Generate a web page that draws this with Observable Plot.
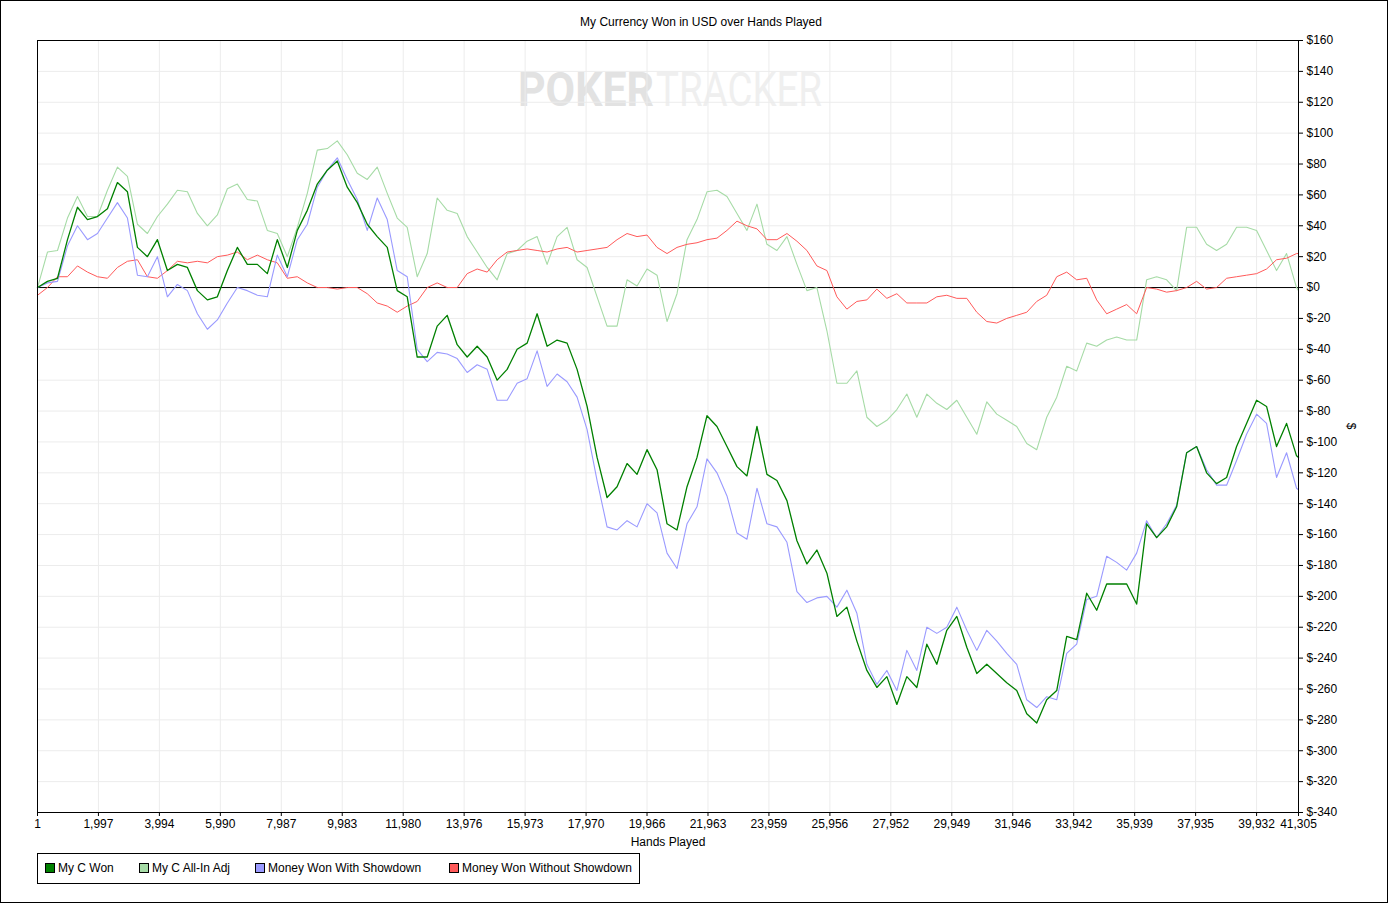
<!DOCTYPE html>
<html>
<head>
<meta charset="utf-8">
<script src="https://cdn.jsdelivr.net/npm/d3@7"></script>
<script src="https://cdn.jsdelivr.net/npm/@observablehq/plot@0.6"></script>
<style>
  html, body { margin: 0; padding: 0; background: #fff; overflow: hidden; }
  #wrap { position: relative; width: 1388px; height: 903px; font-family: "Liberation Sans", Arial, sans-serif; font-size: 12px; color: #000; background: #fff; }
  #outer { position: absolute; left: 0; top: 0; width: 1388px; height: 903px; box-sizing: border-box; border: 1px solid #000; pointer-events: none; }
  #title { position: absolute; left: 480px; width: 442px; top: 15px; line-height: 14px; text-align: center; }
  #wm { position: absolute; left: 490px; top: 50px; }
  #chart { position: absolute; left: 0; top: 0; }
  #xlabel { position: absolute; left: 568px; width: 200px; top: 835px; line-height: 14px; text-align: center; }
  #ylabel { position: absolute; left: 1344px; top: 419px; width: 14px; height: 14px; line-height: 14px; text-align: center; transform: rotate(90deg); }
  #legend { position: absolute; left: 37px; top: 853px; width: 603px; height: 31px; box-sizing: border-box; border: 1px solid #000; background: #fff; }
  .item { position: absolute; top: 0; height: 29px; }
  .sw { position: absolute; left: 0; top: 9px; width: 10px; height: 10px; box-sizing: border-box; border: 1px solid #000; }
  .lt { position: absolute; left: 13px; top: 7px; line-height: 14px; white-space: nowrap; }
</style>
</head>
<body>
<div id="wrap">
  <svg id="wm" width="380" height="80">
    <text id="wm1" x="0" y="56" font-family="Roboto, 'Liberation Sans', sans-serif" font-size="48" font-weight="bold" fill="#e2e2e2">POKER</text>
    <text id="wm2" x="0" y="56" font-family="Roboto, 'Liberation Sans', sans-serif" font-size="48" fill="#efefef">TRACKER</text>
  </svg>
  <div id="chart"></div>
  <div id="title">My Currency Won in USD over Hands Played</div>
  <div id="xlabel">Hands Played</div>
  <div id="ylabel">$</div>
  <div id="legend"></div>
  <div id="outer"></div>
</div>
<script>
// ---- data ----
const hands = [1,328,656,983,1310,1638,1965,2292,2619,2947,3274,3601,3929,4256,4583,4911,5238,5565,5892,6220,6547,6874,7202,7529,7856,8184,8511,8838,9165,9493,9820,10147,10475,10802,11129,11457,11784,12111,12438,12766,13093,13420,13748,14075,14402,14730,15057,15384,15711,16039,16366,16693,17021,17348,17675,18003,18330,18657,18984,19312,19639,19966,20294,20621,20948,21276,21603,21930,22257,22585,22912,23239,23567,23894,24221,24549,24876,25203,25530,25858,26185,26512,26840,27167,27494,27822,28149,28476,28803,29131,29458,29785,30113,30440,30767,31095,31422,31749,32076,32404,32731,33058,33386,33713,34040,34368,34695,35022,35349,35677,36004,36331,36659,36986,37313,37641,37968,38295,38622,38950,39277,39604,39932,40259,40586,40914,41241,41305];

const myCWon = [0,4,6,31,52,44,46,51,68,62,26,20,31,11,15,13,-2,-8,-6,11,26,15,15,9,31,13,37,50,67,76,82,65,55,41,33,26,-2,-6,
  -45,-45,-25,-18,-37,-45,
  -38,-45,-60,-53,-40,-36,-17,-38,-34,-36,-53,-77,-110,-136,-129,-114,-121,-105,-118,-153,-157,-129,-110,-83,-90,
  -103,-116,-122,-90,-121,-125,-138,-164,-179,-170,-185,-213,-207,-229,-248,-259,-252,-270,-252,-259,-231,-244,-222,-213,-233,-250,-244,-250,
  -256,-261,-276,-282,-267,-261,-226,-228,-198,-209,-192,-192,-192,-205,-153,-162,-155,-142,-107,-103,-120,-127,-123,-103,-88,-73,-77,-103,-88,-109,
  -110];

const myCAllInAdj = [0,23,24,45,59,46,46,63,78,72,41,35,46,54,63,62,48,40,47,64,67,57,56,37,35,20,39,61,89,90,95,86,74,70,78,61,45,39,7,22,58,50,48,33,23,
  13,5,22,24,30,33,15,33,39,18,13,-6,-25,-25,5,1,12,8,-22,-4,31,44,62,63,59,48,37,54,28,24,33,15,-2,0,-28,-62,-62,-54,-84,-90,
  -86,-79,-69,-84,-69,-75,-79,-73,-84,-95,-74,-82,-86,-90,-101,-105,-84,-71,-51,-54,-36,-38,-34,-32,-34,-34,5,7,5,-2,39,39,28,24,28,39,39,37,24,11,22,0,
  -2];

const wonWithShowdown = [0,3,4,27,40,31,35,45,55,45,8,7,20,-6,2,-2,-17,-27,-21,-10,0,-2,-5,-6,21,7,31,41,65,76,84,70,57,37,58,44,11,7,
  -40,-48,-42,-43,-46,-55,
  -50,-53,-73,-73,-62,-59,-41,-64,-56,-61,-71,-92,-125,-155,-157,-151,-155,-140,-146,-172,-182,-153,-142,-111,-120,
  -135,-159,-163,-130,-153,-155,-165,-197,-204,-201,-200,-207,-196,-211,-244,-257,-248,-261,-235,-248,-220,-224,-220,-207,-222,-235,-222,-229,
  -237,-244,-267,-272,-265,-267,-237,-231,-202,-200,-174,-178,-183,-172,-151,-162,-153,-141,-107,-103,-118,-128,-128,-112,-95,-82,-88,-123,-107,-130,
  -131];

const wonWithoutShowdown = [-5,0,7,7,14,10,7,6,13,17,18,7,6,11,17,16,17,16,20,21,23,18,21,18,16,6,7,3,0,0,-1,0,0,-4,-10,-12,-16,-12,-9,0,3,0,0,9,12,
  10,18,23,24,25,24,23,25,26,23,24,25,26,31,35,33,34,26,22,26,28,29,31,32,37,43,40,38,31,31,35,30,24,14,11,
  -6,-14,-9,-8,-1,
  -7,-4,-10,-10,-10,-6,-5,-7,-7,-16,-22,-23,-20,-18,-16,-9,-5,7,10,5,6,-8,-17,-14,-11,-17,0,-1,-3,-2,0,4,-1,0,6,7,8,9,12,18,19,22,
  22];

const xTicks = [1,1997,3994,5990,7987,9983,11980,13976,15973,17970,19966,21963,23959,25956,27952,29949,31946,33942,35939,37935,39932,41305];
const yTicks = [160,140,120,100,80,60,40,20,0,-20,-40,-60,-80,-100,-120,-140,-160,-180,-200,-220,-240,-260,-280,-300,-320,-340];

const seriesNames = ["My C Won", "My C All-In Adj", "Money Won With Showdown", "Money Won Without Showdown"];
const seriesColors = ["#008000", "#a6dba6", "#9a9aff", "#ff5a5a"];

// ---- chart ----
const pts = arr => hands.map((h, i) => ({hand: h, value: arr[i]}));
const fmtY = d => d < 0 ? "$-" + (-d) : "$" + d;
const fmtX = d3.format(",");

const chart = Plot.plot({
  width: 1388,
  height: 903,
  marginLeft: 37,
  marginRight: 90,
  marginTop: 40,
  marginBottom: 91,
  style: {background: "transparent", fontFamily: "'Liberation Sans', Arial, sans-serif", fontSize: "12px", color: "#000", overflow: "visible"},
  x: {domain: [1, 41305], label: null},
  y: {domain: [-340, 160], label: null},
  marks: [
    Plot.gridX(xTicks, {stroke: "#ececec", strokeOpacity: 1}),
    Plot.gridY(yTicks, {stroke: "#ececec", strokeOpacity: 1}),
    Plot.ruleY([0], {stroke: "#000", strokeWidth: 1}),
    Plot.line(pts(myCAllInAdj), {x: "hand", y: "value", stroke: seriesColors[1], strokeWidth: 1.1}),
    Plot.line(pts(wonWithoutShowdown), {x: "hand", y: "value", stroke: seriesColors[3], strokeWidth: 1}),
    Plot.line(pts(wonWithShowdown), {x: "hand", y: "value", stroke: seriesColors[2], strokeWidth: 1.1}),
    Plot.line(pts(myCWon), {x: "hand", y: "value", stroke: seriesColors[0], strokeWidth: 1.3}),
    Plot.frame({stroke: "#000", strokeWidth: 1}),
    Plot.axisX(xTicks, {anchor: "bottom", tickSize: 4, tickPadding: 3, tickFormat: fmtX, label: null, fill: "#000", stroke: "#000"}),
    Plot.axisY(yTicks, {anchor: "right", tickSize: 4, tickPadding: 4, tickFormat: fmtY, label: null, fill: "#000", stroke: "#000"})
  ]
});
document.getElementById("chart").appendChild(chart);

// ---- watermark: fit the two words into their boxes ----
function fitWord(id, left, width) {
  const t = document.getElementById(id);
  const w = t.getComputedTextLength() || width;
  t.setAttribute("transform", `translate(${left},0) scale(${width / w},1)`);
}
fitWord("wm1", 28, 136);
fitWord("wm2", 166, 166);

// ---- legend ----
const legend = document.getElementById("legend");
const offsets = [7, 101, 217, 411];
seriesNames.forEach((name, i) => {
  const it = document.createElement("div");
  it.className = "item";
  it.style.left = offsets[i] + "px";
  const sw = document.createElement("div");
  sw.className = "sw";
  sw.style.background = seriesColors[i];
  const lt = document.createElement("div");
  lt.className = "lt";
  lt.textContent = name;
  it.appendChild(sw);
  it.appendChild(lt);
  legend.appendChild(it);
});
</script>
</body>
</html>
